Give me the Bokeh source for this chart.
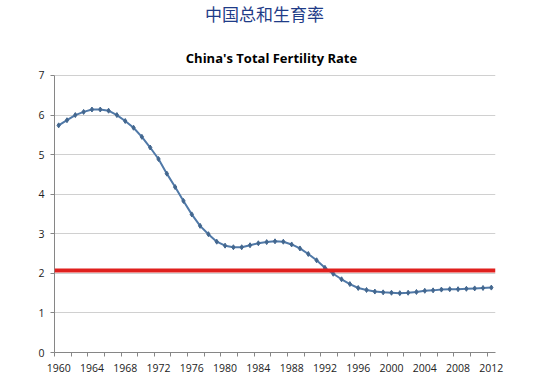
from bokeh.plotting import figure
from bokeh.models import Span, FixedTicker, Range1d, Label
from bokeh.embed import file_html
from bokeh.resources import INLINE

years = list(range(1960, 2013))
tfr = [5.74, 5.87, 6.00, 6.08, 6.14, 6.14, 6.11, 6.00, 5.85, 5.68,
       5.45, 5.18, 4.89, 4.52, 4.18, 3.83, 3.49, 3.20, 2.99, 2.80,
       2.70, 2.66, 2.66, 2.71, 2.76, 2.79, 2.81, 2.80, 2.73, 2.63,
       2.49, 2.33, 2.14, 1.99, 1.85, 1.73, 1.63, 1.58, 1.54, 1.52,
       1.51, 1.50, 1.51, 1.53, 1.56, 1.57, 1.59, 1.60, 1.60, 1.61,
       1.62, 1.63, 1.64]
replacement_rate = 2.07
x_label_years = list(range(1960, 2013, 4))
x_minor_ticks = [y - 0.5 for y in range(1960, 2014, 2)]
y_ticks = [0, 1, 2, 3, 4, 5, 6, 7]

cn_title = "中国总和生育率"
en_title = "China's Total Fertility Rate"

# frame reaches the top of the canvas so the titles (drawn as labels) are not clipped;
# the value axis itself is bounded to 0..7
p = figure(width=548, height=375, output_backend="svg", toolbar_location=None,
           x_range=Range1d(1959.5, 2012.5), y_range=Range1d(0, 8.895),
           min_border_left=54, min_border_right=53, min_border_top=0,
           min_border_bottom=23)
p.outline_line_color = None
p.background_fill_color = "white"
p.border_fill_color = "white"

# screen units are measured from the frame's bottom-left corner
p.add_layout(Label(x=210, y=339, x_units="screen", y_units="screen",
                   text=cn_title, text_font="Noto Sans CJK SC",
                   text_font_size="17px", text_color="#1F3C88",
                   text_align="center", text_baseline="middle"))
p.add_layout(Label(x=217, y=295, x_units="screen", y_units="screen",
                   text=en_title, text_font="Open Sans",
                   text_font_size="13px", text_font_style="bold",
                   text_color="#000000",
                   text_align="center", text_baseline="middle"))

# axes
p.xaxis.ticker = FixedTicker(ticks=x_label_years, minor_ticks=x_minor_ticks)
p.xaxis.major_tick_out = 0
p.xaxis.major_tick_in = 0
p.xaxis.minor_tick_out = 4
p.xaxis.minor_tick_in = 0
p.xaxis.minor_tick_line_color = "#868686"
p.xaxis.axis_line_color = "#868686"
p.xaxis.major_label_standoff = 7
p.xaxis.major_label_text_font = "Open Sans"
p.xaxis.major_label_text_font_size = "10.5px"
p.xaxis.major_label_text_color = "#222222"

p.yaxis.ticker = FixedTicker(ticks=y_ticks)
p.yaxis.bounds = (0, 7)
p.yaxis.major_tick_out = 4
p.yaxis.major_tick_in = 0
p.yaxis.minor_tick_line_color = None
p.yaxis.major_tick_line_color = "#868686"
p.yaxis.axis_line_color = "#868686"
p.yaxis.major_label_standoff = 6
p.yaxis.major_label_text_font = "Open Sans"
p.yaxis.major_label_text_font_size = "10.5px"
p.yaxis.major_label_text_color = "#222222"

p.xgrid.grid_line_color = None
p.ygrid.ticker = FixedTicker(ticks=y_ticks)
p.ygrid.grid_line_color = "#D0D0D0"
p.ygrid.grid_line_width = 1

p.line(years, tfr, line_color="#5079A8", line_width=2)
p.scatter(years, tfr, marker="diamond", size=5, fill_color="#43678F",
          line_color="#43678F")

p.add_layout(Span(location=replacement_rate, dimension="width",
                  line_color="#E0201E", line_width=4))

open("out.html", "w").write(file_html(p, INLINE))
